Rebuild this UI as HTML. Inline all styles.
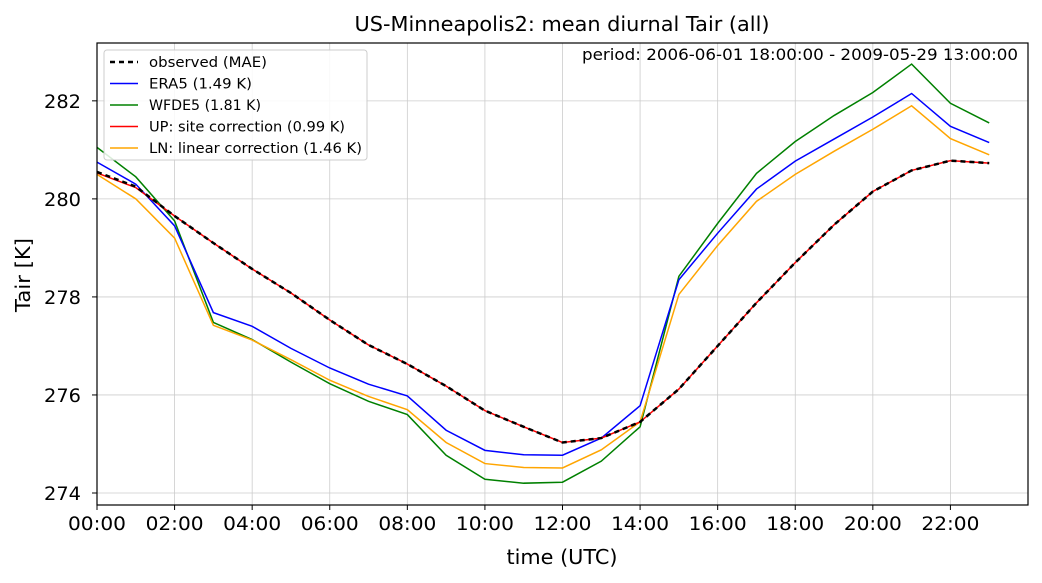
<!DOCTYPE html>
<html><head><meta charset="utf-8"><style>
body{margin:0;background:#fff;}
svg{display:block;font-family:"DejaVu Sans","Liberation Sans",sans-serif;}
</style></head><body>
<svg id="chart" width="1042" height="583" viewBox="0 0 1042 583">
<rect width="1042" height="583" fill="#fff"/>
<text x="562" y="31" font-size="20" text-anchor="middle" textLength="415" lengthAdjust="spacingAndGlyphs">US-Minneapolis2: mean diurnal Tair (all)</text>
<g id="grid"></g>
<g id="series"></g>
<rect x="97" y="43" width="931" height="462" fill="none" stroke="#000" stroke-width="1.2"/>
<g id="axes" font-size="19"></g>
<text x="562" y="564" font-size="20" text-anchor="middle" textLength="111" lengthAdjust="spacingAndGlyphs">time (UTC)</text>
<text x="30" y="275" font-size="20" text-anchor="middle" textLength="74" lengthAdjust="spacingAndGlyphs" transform="rotate(-90 30 275)">Tair [K]</text>
<text x="1018" y="60" font-size="16" text-anchor="end" textLength="436" lengthAdjust="spacingAndGlyphs">period: 2006-06-01 18:00:00 - 2009-05-29 13:00:00</text>
<g id="legend">
<rect x="104" y="50" width="263" height="110" rx="3" fill="#fff" fill-opacity="0.85" stroke="#ccc"/>
</g>
</svg>
<script>
const hours=[0,1,2,3,4,5,6,7,8,9,10,11,12,13,14,15,16,17,18,19,20,21,22,23];
const observed=[280.55,280.25,279.65,279.1,278.57,278.08,277.53,277.02,276.63,276.18,275.68,275.35,275.03,275.12,275.45,276.12,277.0,277.88,278.7,279.47,280.15,280.58,280.78,280.73];
const era5=[280.75,280.3,279.45,277.68,277.4,276.95,276.55,276.22,275.98,275.28,274.87,274.78,274.77,275.12,275.78,278.35,279.3,280.2,280.77,281.22,281.67,282.15,281.48,281.15];
const wfde5=[281.05,280.45,279.55,277.48,277.13,276.67,276.23,275.87,275.6,274.77,274.28,274.2,274.22,274.65,275.35,278.42,279.5,280.52,281.17,281.7,282.17,282.75,281.95,281.55];
const upCorr=[280.53,280.23,279.65,279.1,278.57,278.08,277.53,277.02,276.63,276.18,275.68,275.35,275.03,275.12,275.45,276.12,277.0,277.88,278.7,279.47,280.15,280.58,280.78,280.73];
const lnCorr=[280.5,280.0,279.2,277.42,277.12,276.72,276.3,275.97,275.7,275.03,274.6,274.52,274.51,274.88,275.45,278.05,279.05,279.95,280.5,280.97,281.42,281.9,281.23,280.9];
const xTicks=[0,2,4,6,8,10,12,14,16,18,20,22];
const xTickLabels=["00:00","02:00","04:00","06:00","08:00","10:00","12:00","14:00","16:00","18:00","20:00","22:00"];
const yTicks=[274,276,278,280,282];
const legendLabels=["observed (MAE)","ERA5 (1.49 K)","WFDE5 (1.81 K)","UP: site correction (0.99 K)","LN: linear correction (1.46 K)"];
const legendWidths=[118,103,112,196,213];

const NS="http://www.w3.org/2000/svg";
const X0=97,X1=1028,Y0=43,Y1=505,xmin=0,xmax=24,ymin=273.755,ymax=283.18;
const xs=v=>X0+(v-xmin)/(xmax-xmin)*(X1-X0);
const ys=v=>Y1-(v-ymin)/(ymax-ymin)*(Y1-Y0);
function mk(tag,attrs,parent){const e=document.createElementNS(NS,tag);for(const k in attrs)e.setAttribute(k,attrs[k]);parent.appendChild(e);return e;}
const grid=document.getElementById('grid'),axes=document.getElementById('axes'),ser=document.getElementById('series'),leg=document.getElementById('legend');
xTicks.forEach((t,i)=>{
 const g=mk('line',{x1:xs(t),x2:xs(t),y1:Y0,y2:Y1,stroke:'#ccc','stroke-width':0.8},grid);
 
 
 const tk=mk('line',{x1:xs(t),x2:xs(t),y1:Y1,y2:Y1+5,stroke:'#000'},axes);
 
 
 const tx=mk('text',{x:xs(t),y:Y1+25,'text-anchor':'middle',textLength:58,lengthAdjust:'spacingAndGlyphs'},axes);tx.textContent=xTickLabels[i];
 
 
});
yTicks.forEach(t=>{
 const g=mk('line',{x1:X0,x2:X1,y1:ys(t),y2:ys(t),stroke:'#ccc','stroke-width':0.8},grid);
 
 
 const tk=mk('line',{x1:X0-5,x2:X0,y1:ys(t),y2:ys(t),stroke:'#000'},axes);
 
 
 const tx=mk('text',{x:X0-16,y:ys(t)+7,'text-anchor':'end',textLength:37,lengthAdjust:'spacingAndGlyphs'},axes);tx.textContent=t;
 
 
});
const series=[
 {d:wfde5,c:'green',w:1.5,dash:null,n:'wfde5-line'},
 {d:era5,c:'blue',w:1.5,dash:null,n:'era5-line'},
 {d:lnCorr,c:'orange',w:1.5,dash:null,n:'ln-correction-line'},
 {d:upCorr,c:'red',w:1.5,dash:null,n:'up-correction-line'},
 {d:observed,c:'black',w:2.5,dash:'5 4',n:'observed-line'}];
series.forEach(s=>{
 const p=mk('polyline',{points:hours.map((h,i)=>xs(h)+','+ys(s.d[i])).join(' '),fill:'none',stroke:s.c,'stroke-width':s.w},ser);
 if(s.dash)p.setAttribute('stroke-dasharray',s.dash);
 
 
});
const legStyle=[['black',2.5,'5 4'],['blue',1.5,null],['green',1.5,null],['red',1.5,null],['orange',1.5,null]];
legendLabels.forEach((lab,i)=>{
 const y=62+i*21.5;
 const l=mk('line',{x1:110,x2:138,y1:y,y2:y,stroke:legStyle[i][0],'stroke-width':legStyle[i][1]},leg);
 if(legStyle[i][2])l.setAttribute('stroke-dasharray',legStyle[i][2]);
 
 
 const t=mk('text',{x:149,y:y+5,'font-size':14,textLength:legendWidths[i],lengthAdjust:'spacingAndGlyphs'},leg);t.textContent=lab;
 
 
});
</script>
</body></html>
